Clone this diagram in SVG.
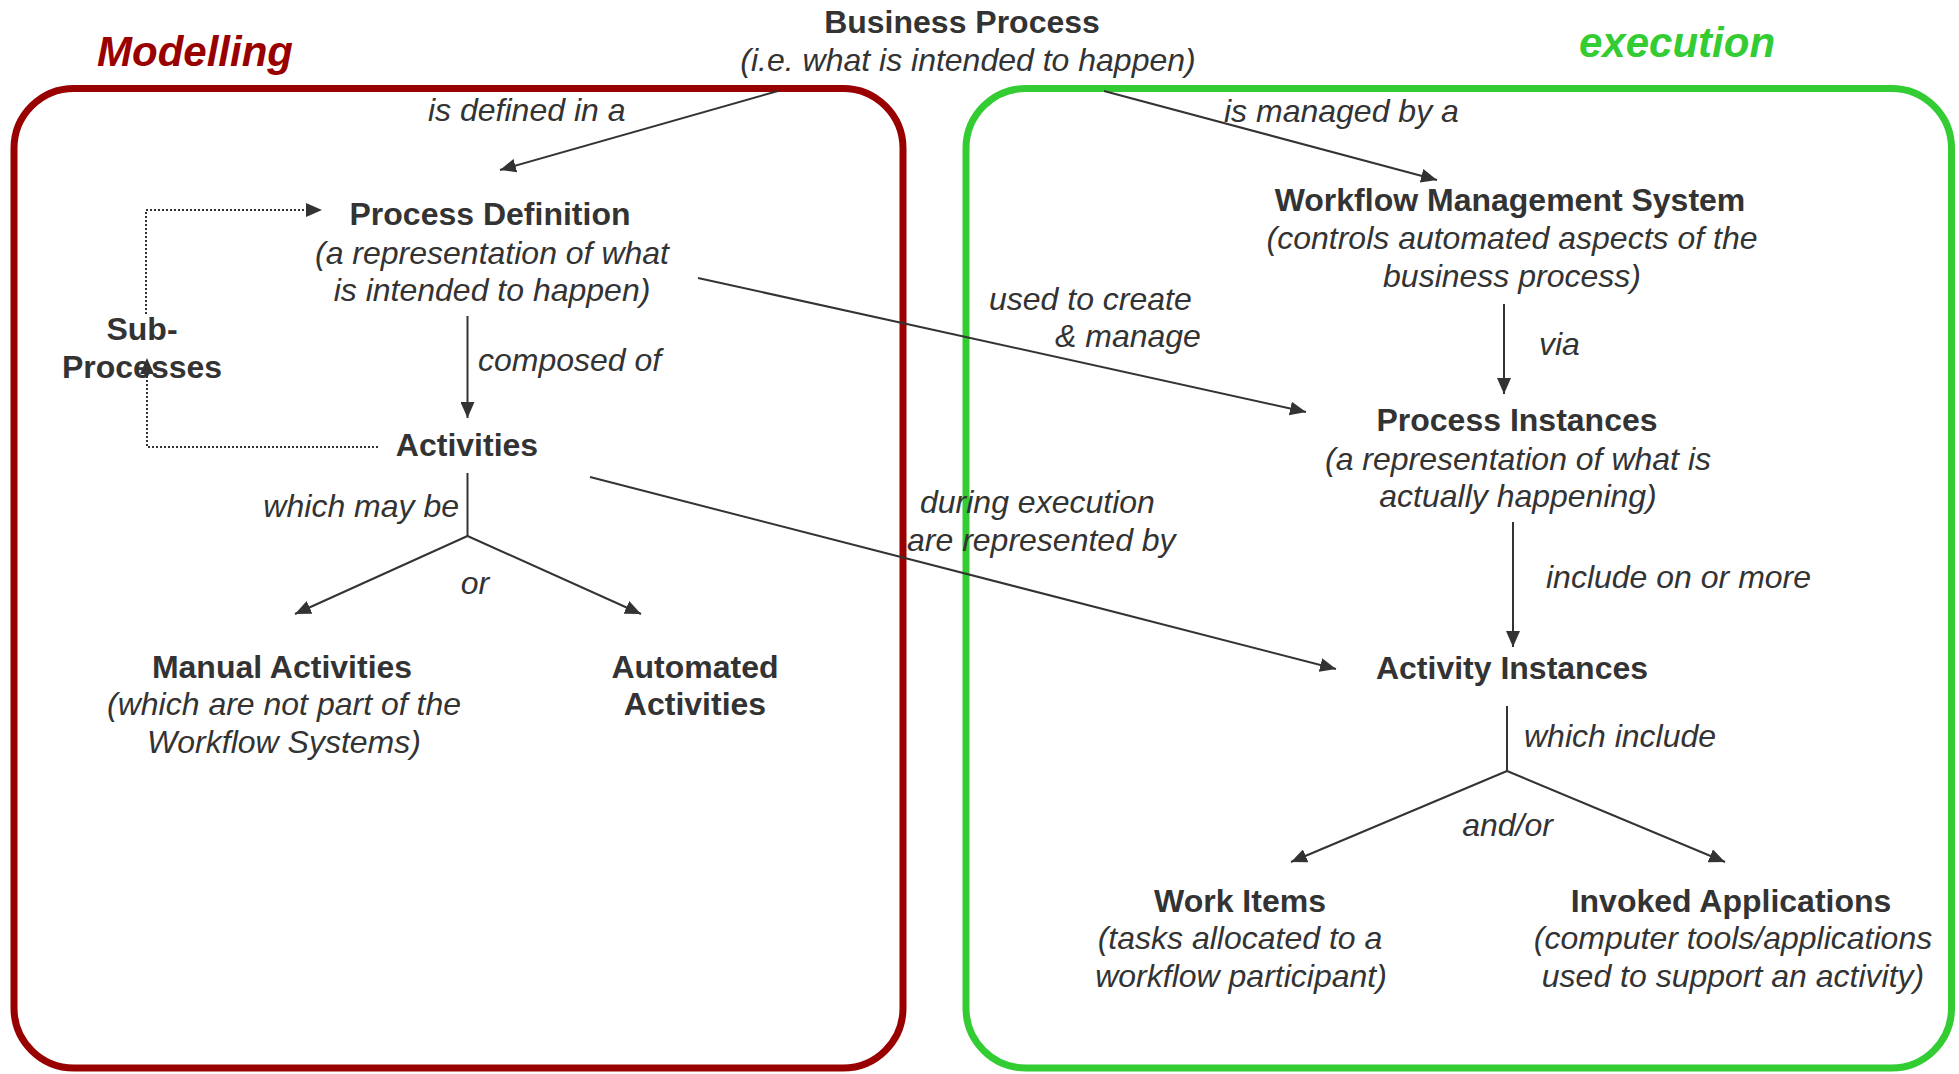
<svg xmlns="http://www.w3.org/2000/svg" width="1959" height="1074" viewBox="0 0 1959 1074">
<defs>
<style>
text{font-family:"Liberation Sans",Arial,sans-serif;font-size:32px;fill:#333333}
.b{font-weight:bold}
.i{font-style:italic}
.c{text-anchor:middle}
.e{text-anchor:end}
.ln{fill:none;stroke:#333333;stroke-width:2}
.dot{fill:none;stroke:#333333;stroke-width:2;stroke-dasharray:2 2}
.title{font-size:42px;font-weight:bold;font-style:italic}
</style>
<marker id="ah" markerUnits="userSpaceOnUse" markerWidth="16" markerHeight="14" refX="16" refY="7" orient="auto">
<path d="M0,0 L16,7 L0,14 z" fill="#333333"/>
</marker>
</defs>
<rect width="1959" height="1074" fill="#ffffff"/>

<g id="modelling-frame">
<rect x="14" y="88.5" width="889" height="979.5" rx="60" ry="60" fill="none" stroke="#990000" stroke-width="7"/>
<text class="title" x="97" y="66" style="fill:#990000">Modelling</text>
</g>
<g id="execution-frame">
<rect x="966" y="88.5" width="985.5" height="979.5" rx="60" ry="60" fill="none" stroke="#33cc33" stroke-width="7"/>
<text class="title" x="1579" y="57" style="fill:#33cc33">execution</text>
</g>

<g id="connectors">
<line class="ln" x1="778" y1="91" x2="500" y2="170" marker-end="url(#ah)"/>
<line class="ln" x1="1104" y1="91" x2="1437" y2="180" marker-end="url(#ah)"/>
<line class="ln" x1="698" y1="278" x2="1306" y2="412" marker-end="url(#ah)"/>
<line class="ln" x1="590" y1="477" x2="1336" y2="669" marker-end="url(#ah)"/>
<line class="ln" x1="467.5" y1="316" x2="467.5" y2="418" marker-end="url(#ah)"/>
<line class="ln" x1="1504" y1="304" x2="1504" y2="394" marker-end="url(#ah)"/>
<line class="ln" x1="1513" y1="522" x2="1513" y2="647" marker-end="url(#ah)"/>
<polyline class="ln" points="467.5,473 467.5,536"/>
<line class="ln" x1="467.5" y1="536" x2="295" y2="614" marker-end="url(#ah)"/>
<line class="ln" x1="467.5" y1="536" x2="641" y2="614" marker-end="url(#ah)"/>
<polyline class="ln" points="1507,706 1507,771"/>
<line class="ln" x1="1507" y1="771" x2="1291" y2="862" marker-end="url(#ah)"/>
<line class="ln" x1="1507" y1="771" x2="1725" y2="862" marker-end="url(#ah)"/>
<path class="dot" d="M378,447 L147,447 L147,358" marker-end="url(#ah)"/>
<path class="dot" d="M146,314 L146,210 L322,210" marker-end="url(#ah)"/>
<text class="i" x="428" y="121">is defined in a</text>
<text class="i" x="1224" y="122">is managed by a</text>
<text class="i" x="989" y="310">used to create</text>
<text class="i" x="1055" y="347">&amp; manage</text>
<text class="i" x="920" y="513">during execution</text>
<text class="i" x="907" y="551">are represented by</text>
<text class="i" x="478" y="371">composed of</text>
<text class="i e" x="459" y="517">which may be</text>
<text class="i c" x="475" y="593.5">or</text>
<text class="i" x="1539" y="355">via</text>
<text class="i" x="1546" y="588">include on or more</text>
<text class="i" x="1524" y="747">which include</text>
<text class="i c" x="1507.5" y="836">and/or</text>
</g>

<g id="business-process">
<text class="b c" x="962" y="32.5">Business Process</text>
<text class="i c" x="968" y="71">(i.e. what is intended to happen)</text>
</g>
<g id="process-definition">
<text class="b c" x="490" y="224.5">Process Definition</text>
<text class="i c" x="492" y="263.5">(a representation of what</text>
<text class="i c" x="492" y="301">is intended to happen)</text>
</g>
<g id="sub-processes">
<text class="b c" x="142" y="339.5">Sub-</text>
<text class="b c" x="142" y="377.5">Processes</text>
</g>
<g id="activities">
<text class="b c" x="467" y="456">Activities</text>
</g>
<g id="manual-activities">
<text class="b c" x="282" y="678">Manual Activities</text>
<text class="i c" x="284" y="715">(which are not part of the</text>
<text class="i c" x="284" y="752.5">Workflow Systems)</text>
</g>
<g id="automated-activities">
<text class="b c" x="695" y="678">Automated</text>
<text class="b c" x="695" y="715">Activities</text>
</g>
<g id="workflow-management-system">
<text class="b c" x="1510" y="211">Workflow Management System</text>
<text class="i c" x="1512" y="249">(controls automated aspects of the</text>
<text class="i c" x="1512" y="287">business process)</text>
</g>
<g id="process-instances">
<text class="b c" x="1517" y="431">Process Instances</text>
<text class="i c" x="1518" y="469.5">(a representation of what is</text>
<text class="i c" x="1518" y="507">actually happening)</text>
</g>
<g id="activity-instances">
<text class="b c" x="1512" y="679">Activity Instances</text>
</g>
<g id="work-items">
<text class="b c" x="1240" y="911.5">Work Items</text>
<text class="i c" x="1240" y="949">(tasks allocated to a</text>
<text class="i c" x="1241" y="986.5">workflow participant)</text>
</g>
<g id="invoked-applications">
<text class="b c" x="1731" y="911.5">Invoked Applications</text>
<text class="i c" x="1733" y="949">(computer tools/applications</text>
<text class="i c" x="1733" y="986.5">used to support an activity)</text>
</g>
</svg>
